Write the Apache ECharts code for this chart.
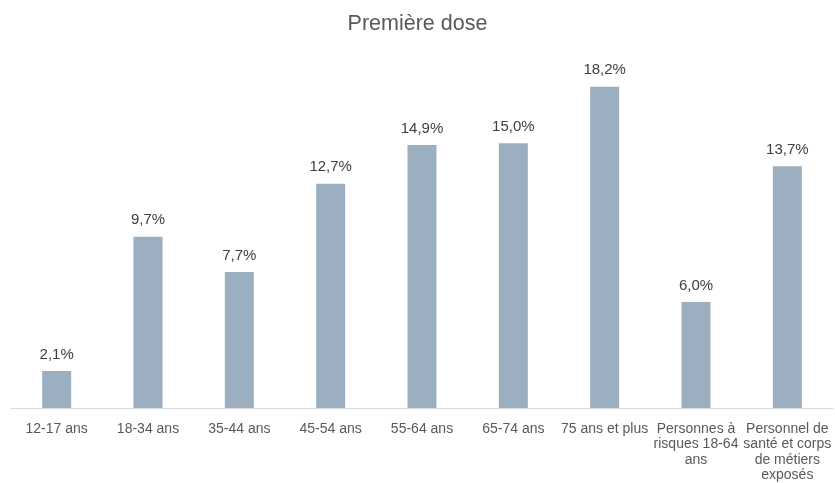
<!DOCTYPE html>
<html><head><meta charset="utf-8">
<script src="https://cdn.jsdelivr.net/npm/echarts@6/dist/echarts.min.js"></script>
<style>html,body{margin:0;padding:0;background:#fff}#c{width:835px;height:483px}</style>
</head><body><div id="c"></div>
<script>
const categories = ["12-17 ans","18-34 ans","35-44 ans","45-54 ans","55-64 ans","65-74 ans","75 ans et plus","Personnes à\nrisques 18-64\nans","Personnel de\nsanté et corps\nde métiers\nexposés"];
const values = [2.1, 9.7, 7.7, 12.7, 14.9, 15.0, 18.2, 6.0, 13.7];
const title = "Première dose";

const chart = echarts.init(document.getElementById('c'));
chart.setOption({
  animation: false,
  title: {text: title, left: 'center', top: 8, textStyle: {fontFamily: 'Liberation Sans', fontSize: 21.5, fontWeight: 'normal', color: '#595959'}},
  grid: {left: 11, right: 2, top: 55, bottom: 72},
  xAxis: {type: 'category', data: categories,
    axisLine: {lineStyle: {color: '#d9d9d9', width: 1}}, axisTick: {show: false},
    axisLabel: {interval: 0, margin: 13, fontFamily: 'Liberation Sans', fontSize: 14, color: '#595959', lineHeight: 15.5}},
  yAxis: {type: 'value', min: 0, max: 20, show: false, splitLine: {show: false}},
  series: [{type: 'bar', data: values, barWidth: 29, itemStyle: {color: '#9bafc0'},
    label: {show: true, position: 'top', distance: 9, fontFamily: 'Liberation Sans', fontSize: 15, color: '#404040',
      formatter: p => p.value.toFixed(1).replace('.', ',') + '%'}}]
});
</script></body></html>
